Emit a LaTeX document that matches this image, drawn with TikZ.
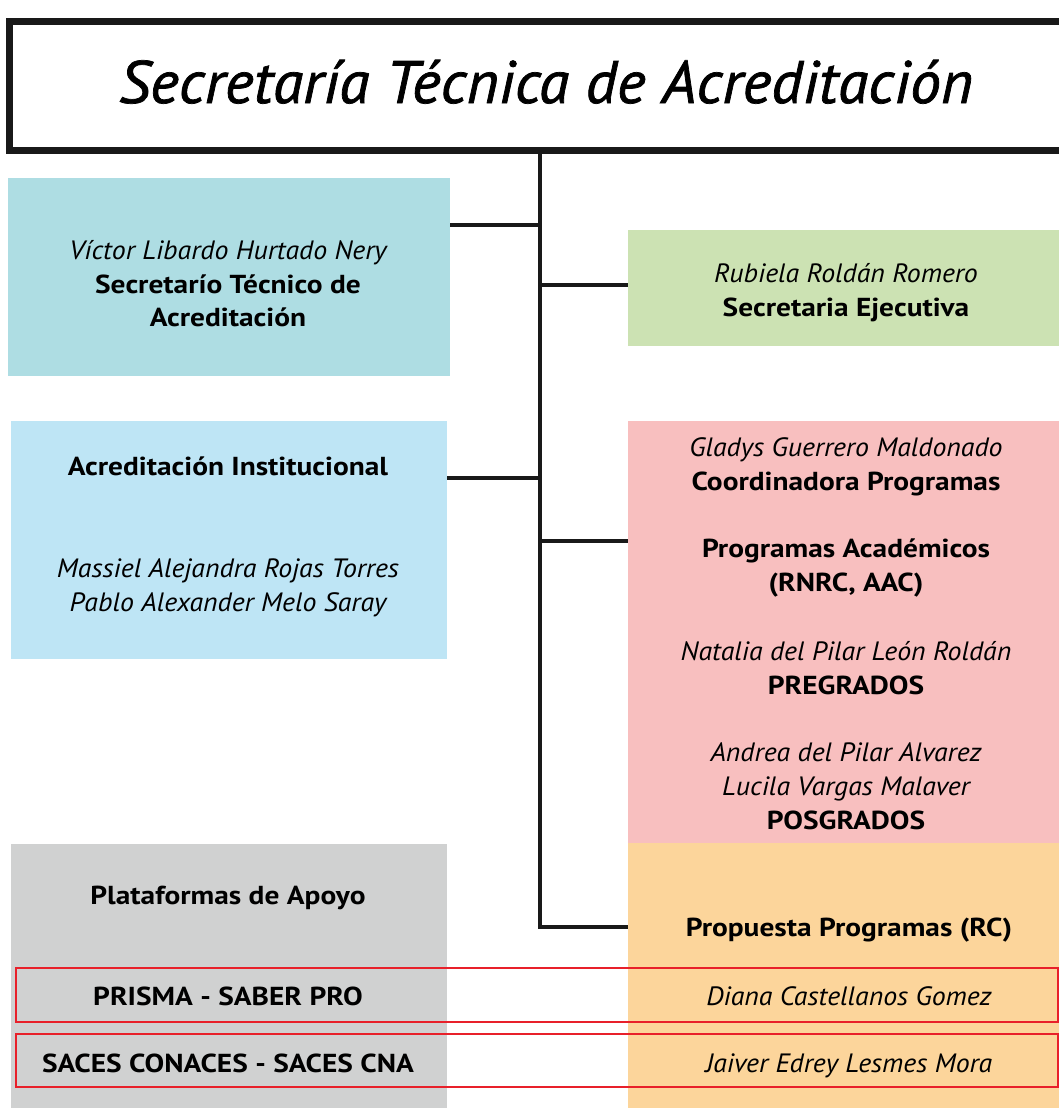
\documentclass[tikz,border=0pt]{standalone}
\usepackage{fontspec}
\setmainfont{PT Sans}[BoldFeatures={FakeStretch=1.13}, ItalicFeatures={FakeStretch=1.05}]
\newfontfamily\titlefont{PT Sans}[ItalicFeatures={FakeStretch=1.03, FakeBold=1.2}]
\usepackage{tikz}
\usetikzlibrary{positioning, calc}

\definecolor{tealbox}{HTML}{AEDDE3}
\definecolor{greenbox}{HTML}{CCE2B3}
\definecolor{bluebox}{HTML}{BEE5F5}
\definecolor{pinkbox}{HTML}{F8BFBF}
\definecolor{graybox}{HTML}{D0D1D1}
\definecolor{orangebox}{HTML}{FCD59B}
\definecolor{redline}{HTML}{E8202A}

\begin{document}
\begin{tikzpicture}[
    x=1pt, y=-1pt,
    box/.style={rectangle, draw=none, inner sep=0pt, anchor=north west},
    txt/.style={font=\fontsize{26.5}{33.6}\selectfont, anchor=base, inner sep=0pt},
    person/.style={txt, font=\fontsize{26.5}{33.6}\selectfont\itshape},
    post/.style={txt, font=\fontsize{26}{33.6}\selectfont\bfseries},
    link/.style={line width=4pt, draw=black!90},
    redframe/.style={draw=redline, line width=2pt}
]
    \clip (0,0) rectangle (1059,1108);

    % Title box
    \node[box, draw=black!90, line width=7pt, minimum width=1070pt, minimum height=129pt] (title) at (6,18) {};
    \node[txt, font=\titlefont\fontsize{60}{62}\selectfont\itshape] (titletext) at (546,103) {Secretaría Técnica de Acreditación};

    % Boxes
    \node[box, fill=tealbox, minimum width=442pt, minimum height=198pt] (sta) at (8,178) {};
    \node[box, fill=greenbox, minimum width=431pt, minimum height=116pt] (sej) at (628,230) {};
    \node[box, fill=bluebox, minimum width=436pt, minimum height=238pt] (ains) at (11,421) {};
    \node[box, fill=pinkbox, minimum width=431pt, minimum height=422pt] (prog) at (628,421) {};
    \node[box, fill=graybox, minimum width=436pt, minimum height=264pt] (plat) at (11,844) {};
    \node[box, fill=orangebox, minimum width=431pt, minimum height=265pt] (prop) at (628,843) {};

    % Trunk and branches
    \coordinate (j1) at (540,225);
    \coordinate (j2) at (540,285);
    \coordinate (j3) at (540,478);
    \coordinate (j4) at (540,541);
    \coordinate (j5) at (540,927);
    \draw[link] (title.south -| j1) -- (j5) -- (j5 -| prop.west);
    \draw[link] (j1 -| sta.east) -- (j1);
    \draw[link] (j2) -- (j2 -| sej.west);
    \draw[link] (j3 -| ains.east) -- (j3);
    \draw[link] (j4) -- (j4 -| prog.west);

    % Texts
    \node[person] (n1) at (228,259) {Víctor Libardo Hurtado Nery};
    \node[post] (r1) at (228,293) {Secretarío Técnico de};
    \node[post] (r1b) at (228,326) {Acreditación};

    \node[person] (n2) at (846,282) {Rubiela Roldán Romero};
    \node[post] (r2) at (846,316) {Secretaria Ejecutiva};

    \node[post] (r3) at (228,475) {Acreditación Institucional};
    \node[person] (n3) at (228,577) {Massiel Alejandra Rojas Torres};
    \node[person] (n3b) at (228,611) {Pablo Alexander Melo Saray};

    \node[person] (n4) at (846,456) {Gladys Guerrero Maldonado};
    \node[post] (r4) at (846,490) {Coordinadora Programas};
    \node[post] (r4b) at (846,557) {Programas Académicos};
    \node[post] (r4c) at (846,591) {(RNRC, AAC)};
    \node[person] (n4b) at (846,660) {Natalia del Pilar León Roldán};
    \node[post] (r4d) at (846,694) {PREGRADOS};
    \node[person] (n4c) at (846,761) {Andrea del Pilar Alvarez};
    \node[person] (n4d) at (846,795) {Lucila Vargas Malaver};
    \node[post] (r4e) at (846,829) {POSGRADOS};

    \node[post] (r5) at (228,904) {Plataformas de Apoyo};
    \node[post] (r5b) at (228,1005) {PRISMA - SABER PRO};
    \node[post] (r5c) at (228,1072) {SACES CONACES - SACES CNA};

    \node[post] (r6) at (849,936) {Propuesta Programas (RC)};
    \node[person] (n6) at (849,1005) {Diana Castellanos Gomez};
    \node[person] (n6b) at (849,1072) {Jaiver Edrey Lesmes Mora};

    % Red frames
    \node[box, redframe, minimum width=1042pt, minimum height=54pt] (row1) at (15,967) {};
    \node[box, redframe, minimum width=1042pt, minimum height=53pt] (row2) at (15,1033) {};
\end{tikzpicture}
\end{document}
